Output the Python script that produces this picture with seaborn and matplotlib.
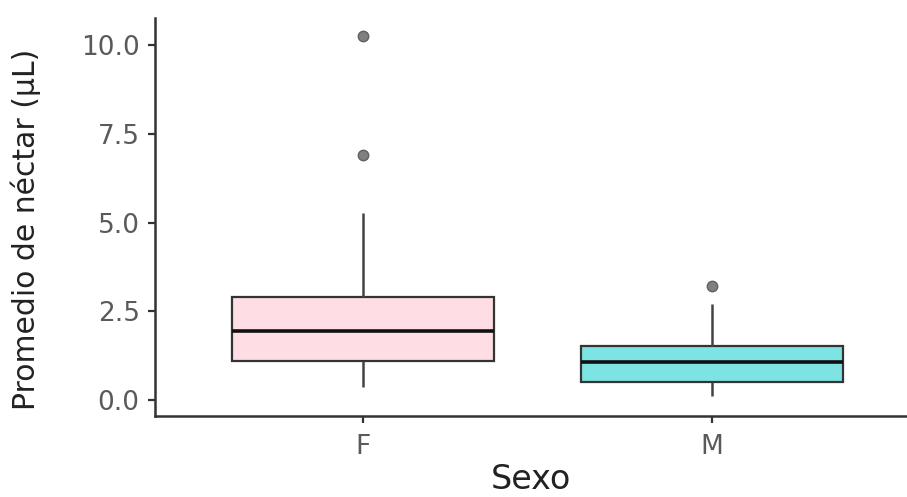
import numpy as np
import pandas as pd
import matplotlib
matplotlib.use("Agg")
import matplotlib.pyplot as plt
import seaborn as sns

# Data (estimated from the reference figure)
categories = ["F", "M"]
valores_F = [0.38, 0.70, 0.95, 1.10, 1.40, 1.70, 1.95, 2.30, 2.70, 2.91, 5.28, 6.90, 10.25]
valores_M = [0.11, 0.30, 0.45, 0.52, 0.70, 0.90, 1.06, 1.20, 1.40, 1.53, 2.10, 2.70, 3.22]
colores = {"F": "#FFDDE4", "M": "#7DE3E3"}
yticks = [0.0, 2.5, 5.0, 7.5, 10.0]

df = pd.DataFrame({
    "Sexo": ["F"] * len(valores_F) + ["M"] * len(valores_M),
    "nectar": valores_F + valores_M,
})

sns.set_theme(style="ticks")
plt.rcParams["font.family"] = ["DejaVu Sans"]

fig = plt.figure(figsize=(9.07, 4.97), dpi=100)
ax = fig.add_axes([155 / 907, 1 - 416 / 497, 1 - 155 / 907, (416 - 18) / 497])

sns.boxplot(
    data=df, x="Sexo", y="nectar", hue="Sexo", order=categories,
    palette=colores, saturation=1, width=0.75, linewidth=1.6,
    linecolor="#333333", showcaps=False, legend=False, ax=ax,
    medianprops=dict(color="#111111", linewidth=2.6),
    flierprops=dict(marker="o", markersize=7.5, markerfacecolor="#808080",
                    markeredgecolor="#606060", markeredgewidth=1.0),
    whiskerprops=dict(color="#444444", linewidth=1.8),
)

ax.set_xlim(-0.596, 1.559)
ax.set_ylim(-0.45, 10.76)
ax.set_yticks(yticks)
ax.set_yticklabels([f"{v:.1f}" for v in yticks])

ax.set_xlabel("Sexo", fontsize=24, color="#222222")
ax.set_ylabel("Promedio de néctar (µL)", fontsize=21.5, color="#222222")
ax.xaxis.set_label_coords(0.5, -0.118)
ax.yaxis.set_label_coords(-0.152, 0.47)
ax.tick_params(axis="both", which="major", labelsize=19, labelcolor="#5a5a5a",
               color="#333333", length=5, width=1.6, direction="out")
ax.tick_params(axis="x", pad=8)
ax.tick_params(axis="y", pad=6)

for side in ["top", "right"]:
    ax.spines[side].set_visible(False)
for side in ["left", "bottom"]:
    ax.spines[side].set_color("#333333")
    ax.spines[side].set_linewidth(1.8)

fig.savefig("out.png", dpi=100)
